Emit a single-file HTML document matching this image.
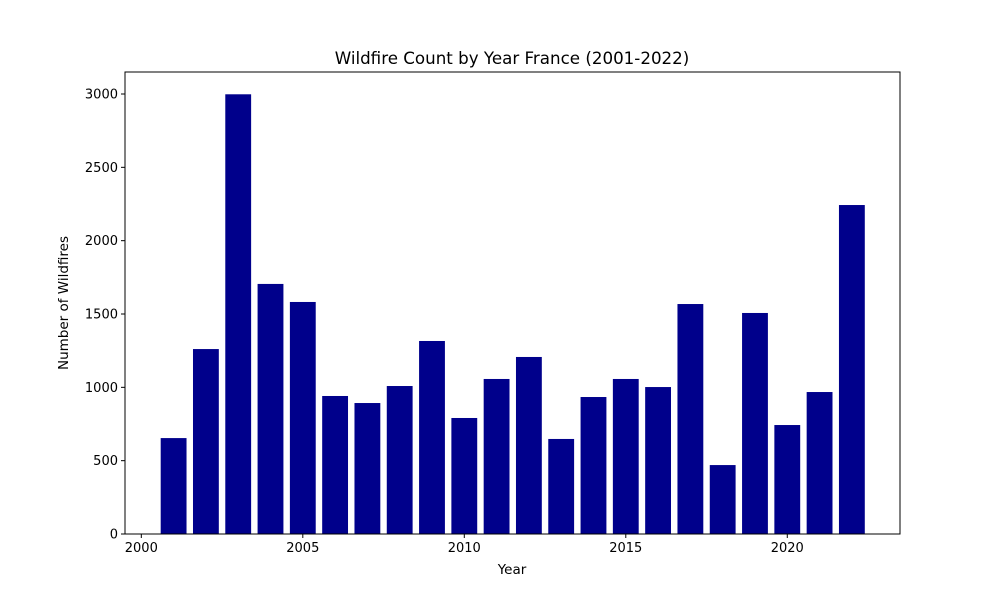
<!DOCTYPE html>
<html><head><meta charset="utf-8"><style>body{margin:0;background:#fff}svg{display:block;font-family:"DejaVu Sans","Liberation Sans",sans-serif}</style></head>
<body>
<svg id="chart" width="1000" height="600"></svg>
<script>
const years=[2001,2002,2003,2004,2005,2006,2007,2008,2009,2010,2011,2012,2013,2014,2015,2016,2017,2018,2019,2020,2021,2022];
const counts=[654,1261,2998,1705,1582,941,893,1009,1316,791,1057,1207,648,934,1057,1002,1568,470,1507,743,968,2243];
const xTicks=[2000,2005,2010,2015,2020];
const yTicks=[0,500,1000,1500,2000,2500,3000];
const L=125,R=900,T=72,B=534,xmin=1999.495,xmax=2023.49,ymax=3150;
const sx=v=>L+(v-xmin)/(xmax-xmin)*(R-L);
const sy=v=>B-v/ymax*(B-T);
const svg=document.getElementById('chart');const NS='http://www.w3.org/2000/svg';
function el(t,a,p){const e=document.createElementNS(NS,t);for(const k in a)e.setAttribute(k,a[k]);(p||svg).appendChild(e);return e;}
years.forEach((y,i)=>{const x0=sx(y-0.4),x1=sx(y+0.4);
const r=el('rect',{x:x0,y:sy(counts[i]),width:x1-x0,height:B-sy(counts[i]),fill:'#00008b'});

});
const frame=el('rect',{x:L,y:T,width:R-L,height:B-T,fill:'none',stroke:'#000','stroke-width':1});


xTicks.forEach(v=>{const x=sx(v);el('line',{x1:x,x2:x,y1:B,y2:B+4,stroke:'#000'});
const t=el('text',{x:x,y:B+18,'text-anchor':'middle','font-size':13});t.textContent=v;

});
yTicks.forEach(v=>{const y=sy(v);el('line',{x1:L-4,x2:L,y1:y,y2:y,stroke:'#000'});
const t=el('text',{x:L-7,y:y+4.5,'text-anchor':'end','font-size':13});t.textContent=v;

});
let t=el('text',{x:512,y:64,'text-anchor':'middle','font-size':16.7});t.textContent='Wildfire Count by Year France (2001-2022)';


t=el('text',{x:512,y:574,'text-anchor':'middle','font-size':13.5});t.textContent='Year';


t=el('text',{x:68,y:303,'text-anchor':'middle','font-size':13.5,transform:'rotate(-90 68 303)'});t.textContent='Number of Wildfires';


</script>
</body></html>
